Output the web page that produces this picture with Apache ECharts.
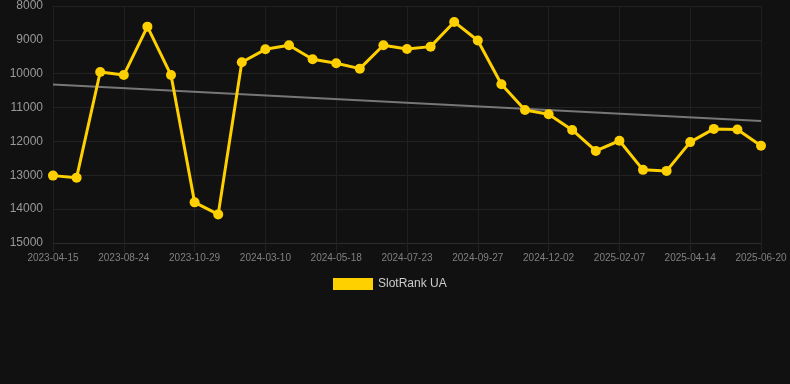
<!DOCTYPE html>
<html><head><meta charset="utf-8">
<script src="https://cdn.jsdelivr.net/npm/echarts@6/dist/echarts.min.js"></script>
<style>html,body{margin:0;padding:0;background:#111111;}#c{width:790px;height:384px;}</style>
</head><body><div id="c"></div>
<script>
const dates = ["2023-04-15","2023-06-01","2023-07-18","2023-08-24","2023-09-15","2023-10-07","2023-10-29","2023-12-12","2024-01-25","2024-03-10","2024-04-02","2024-04-25","2024-05-18","2024-06-09","2024-07-01","2024-07-23","2024-08-14","2024-09-05","2024-09-27","2024-10-19","2024-11-10","2024-12-02","2024-12-24","2025-01-16","2025-02-07","2025-03-01","2025-03-23","2025-04-14","2025-05-06","2025-05-28","2025-06-20"];
const ranks = [13010,13070,9950,10040,8610,10040,13800,14155,9660,9280,9160,9575,9690,9850,9160,9270,9200,8470,9020,10310,11070,11195,11660,12280,11980,12840,12870,12020,11630,11650,12130];
const seriesName = "SlotRank UA";
const yMin = 8000, yMax = 15000, yStep = 1000;

// linear regression trend line derived from data
const n = ranks.length;
let sx=0, sy=0, sxy=0, sxx=0;
ranks.forEach((v,i)=>{sx+=i;sy+=v;sxy+=i*v;sxx+=i*i;});
const slope = (n*sxy - sx*sy)/(n*sxx - sx*sx);
const icpt = (sy - slope*sx)/n;
const trend = ranks.map((v,i)=> (i===0||i===n-1) ? +(icpt+slope*i).toFixed(1) : null);

const chart = echarts.init(document.getElementById('c'));
chart.setOption({
  backgroundColor:'#111111',
  animation:false,
  grid:{left:53,right:29,top:6,bottom:141,containLabel:false},
  legend:{
    data:[seriesName], top:273, left:328,
    icon:'rect', itemWidth:40, itemHeight:12, itemGap:10,
    textStyle:{color:'#cccccc',fontSize:12,fontFamily:'Liberation Sans, Arial, sans-serif'}
  },
  xAxis:{
    type:'category', data:dates, boundaryGap:false,
    axisLine:{show:true,lineStyle:{color:'#2c2c2c'}},
    axisTick:{show:true,interval:2,length:9,lineStyle:{color:'#222222'}},
    axisLabel:{interval:2,color:'#808080',fontSize:10,margin:10,fontFamily:'Liberation Sans, Arial, sans-serif'},
    splitLine:{show:true,interval:2,lineStyle:{color:'#202020'}}
  },
  yAxis:{
    type:'value', inverse:true, min:yMin, max:yMax, interval:yStep,
    axisLine:{show:false}, axisTick:{show:false},
    axisLabel:{color:'#999999',fontSize:12,margin:10,formatter:v=>String(v),fontFamily:'Liberation Sans, Arial, sans-serif'},
    splitLine:{lineStyle:{color:'#222222'}}
  },
  series:[
    {
      name:seriesName, type:'line', data:ranks,
      symbol:'circle', symbolSize:10,
      lineStyle:{color:'#FFD000',width:3},
      itemStyle:{color:'#FFD000'},
      z:3
    },
    {
      name:'trend', type:'line', data:trend, connectNulls:true,
      symbol:'none', lineStyle:{color:'#777777',width:2},
      z:2, silent:true
    }
  ]
});
</script></body></html>
